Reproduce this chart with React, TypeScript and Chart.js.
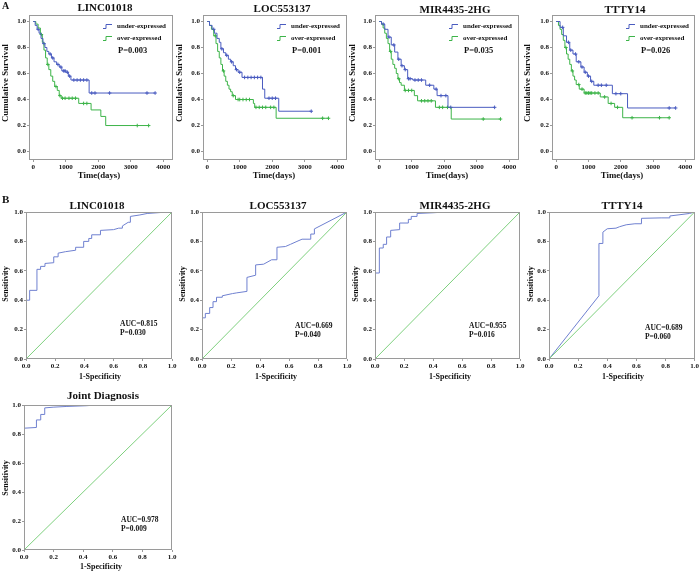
import { useEffect, useRef } from 'react';
import { Chart, registerables } from 'chart.js';
Chart.register(...registerables);

const FONT = '"Liberation Serif", "Times New Roman", serif';
const BLUE = '#4a5cc0';
const GREEN = '#3db449';
const ROC_BLUE = '#6f80d0';
const DIAG = '#7ed07e';
const BOX = '#9a9a9a';
const W = 700;
const H = 577;
const YW = 20;
const XH = 14;

// ---- tick labels ----
const kmTimeTicks = [0, 1000, 2000, 3000, 4000];
const kmSurvTicks = [0, 0.2, 0.4, 0.6, 0.8, 1.0];
const rocTicks = [0, 0.2, 0.4, 0.6, 0.8, 1.0];
const diagonal = [0, 1];

// ---- Kaplan-Meier data ----
const lincUnderT = [0, 60, 120, 180, 240, 300, 360, 420, 480, 560, 640, 720, 800, 880, 1000, 1080, 1160, 1720];
const lincUnderS = [1.0, 0.97, 0.94, 0.91, 0.87, 0.83, 0.8, 0.77, 0.75, 0.72, 0.69, 0.67, 0.65, 0.62, 0.61, 0.58, 0.55, 0.45];
const lincUnderC = [150, 330, 520, 600, 760, 850, 940, 980, 1050, 1120, 1250, 1350, 1450, 1550, 1650, 1800, 1900, 2350, 3500, 3750];
const lincOverT = [0, 80, 150, 220, 280, 330, 380, 430, 480, 540, 600, 660, 740, 800, 860, 1400, 1780, 2080, 2230];
const lincOverS = [1.0, 0.98, 0.95, 0.9, 0.84, 0.78, 0.72, 0.67, 0.63, 0.58, 0.54, 0.5, 0.47, 0.43, 0.41, 0.37, 0.32, 0.27, 0.2];
const lincOverC = [250, 450, 700, 820, 900, 980, 1100, 1200, 1300, 1550, 1650, 3200, 3550];

const locUnderT = [0, 70, 150, 220, 300, 370, 420, 500, 570, 650, 720, 800, 870, 950, 1070, 1700, 1770, 2200];
const locUnderS = [1.0, 0.97, 0.94, 0.91, 0.87, 0.84, 0.79, 0.76, 0.74, 0.71, 0.69, 0.66, 0.63, 0.61, 0.57, 0.48, 0.41, 0.31];
const locUnderC = [200, 450, 600, 750, 900, 1000, 1150, 1250, 1350, 1450, 1550, 1650, 1900, 2000, 2100, 3200];
const locOverT = [0, 70, 130, 200, 270, 320, 370, 420, 470, 520, 570, 620, 670, 720, 770, 870, 1420, 1460, 2120];
const locOverS = [1.0, 0.97, 0.94, 0.89, 0.83, 0.77, 0.72, 0.67, 0.62, 0.58, 0.54, 0.51, 0.48, 0.46, 0.43, 0.4, 0.37, 0.34, 0.256];
const locOverC = [250, 500, 800, 950, 1000, 1100, 1200, 1300, 1500, 1600, 1700, 1800, 1950, 2050, 3550, 3730];

const mirUnderT = [0, 70, 170, 270, 370, 475, 575, 675, 775, 875, 1030, 1430, 1680, 1780, 2115];
const mirUnderS = [1.0, 0.98, 0.94, 0.88, 0.82, 0.765, 0.71, 0.66, 0.63, 0.56, 0.55, 0.51, 0.48, 0.43, 0.34];
const mirUnderC = [120, 300, 450, 600, 700, 800, 900, 950, 1100, 1200, 1300, 1550, 1750, 1900, 2050, 2200, 3550];
const mirOverT = [0, 70, 120, 170, 220, 270, 320, 370, 420, 475, 525, 575, 625, 675, 775, 1080, 1180, 1730, 2215];
const mirOverS = [1.0, 0.98, 0.95, 0.91, 0.87, 0.83, 0.77, 0.71, 0.67, 0.64, 0.6, 0.56, 0.53, 0.51, 0.47, 0.43, 0.39, 0.34, 0.25];
const mirOverC = [350, 600, 800, 900, 1000, 1300, 1400, 1500, 1600, 1850, 1950, 2100, 3200, 3730];

const tttyUnderT = [0, 120, 220, 320, 420, 520, 620, 765, 865, 965, 1065, 1165, 1740, 2210];
const tttyUnderS = [1.0, 0.955, 0.89, 0.84, 0.78, 0.75, 0.69, 0.65, 0.61, 0.58, 0.54, 0.51, 0.445, 0.335];
const tttyUnderC = [200, 380, 450, 600, 700, 800, 900, 1000, 1100, 1300, 1400, 1550, 1850, 2000, 3500, 3700];
const tttyOverT = [0, 70, 120, 170, 220, 270, 320, 370, 420, 470, 520, 570, 620, 715, 865, 1365, 1610, 1810, 2060];
const tttyOverS = [1.0, 0.97, 0.94, 0.9, 0.855, 0.8, 0.75, 0.71, 0.67, 0.62, 0.58, 0.55, 0.515, 0.48, 0.45, 0.42, 0.37, 0.34, 0.26];
const tttyOverC = [300, 500, 700, 800, 900, 950, 1000, 1050, 1100, 1200, 1300, 1500, 1700, 1900, 2350, 3200, 3500];

// ---- ROC data ----
const rocLincFpr = [0, 0, 0.025, 0.025, 0.075, 0.075, 0.1, 0.1, 0.13, 0.13, 0.19, 0.19, 0.22, 0.22, 0.27, 0.34, 0.34, 0.395, 0.395, 0.43, 0.43, 0.45, 0.45, 0.51, 0.51, 0.6, 0.635, 0.66, 0.66, 0.7, 0.715, 0.715, 0.78, 0.83, 0.97, 1];
const rocLincTpr = [0, 0.4, 0.4, 0.467, 0.467, 0.61, 0.61, 0.63, 0.63, 0.65, 0.655, 0.695, 0.695, 0.72, 0.73, 0.74, 0.76, 0.76, 0.8, 0.8, 0.82, 0.82, 0.845, 0.845, 0.875, 0.88, 0.89, 0.89, 0.905, 0.93, 0.93, 0.97, 0.98, 0.99, 1.0, 1];
const rocLocFpr = [0, 0, 0.023, 0.023, 0.053, 0.053, 0.076, 0.076, 0.1, 0.1, 0.14, 0.14, 0.21, 0.24, 0.31, 0.31, 0.37, 0.37, 0.425, 0.48, 0.517, 0.517, 0.575, 0.61, 0.655, 0.69, 0.75, 0.75, 0.775, 0.775, 1];
const rocLocTpr = [0, 0.28, 0.28, 0.31, 0.31, 0.35, 0.35, 0.39, 0.39, 0.42, 0.42, 0.43, 0.445, 0.45, 0.46, 0.555, 0.57, 0.64, 0.645, 0.675, 0.675, 0.76, 0.765, 0.78, 0.8, 0.815, 0.815, 0.85, 0.85, 0.885, 1];
const rocMirFpr = [0, 0, 0.03, 0.03, 0.057, 0.057, 0.08, 0.08, 0.108, 0.108, 0.17, 0.17, 0.23, 0.23, 0.25, 0.25, 0.29, 0.29, 0.4, 0.49, 1];
const rocMirTpr = [0, 0.585, 0.585, 0.755, 0.755, 0.78, 0.78, 0.83, 0.83, 0.875, 0.88, 0.925, 0.925, 0.95, 0.95, 0.97, 0.97, 0.99, 0.995, 1, 1];
const rocTttyFpr = [0, 0.343, 0.343, 0.37, 0.37, 0.4, 0.46, 0.485, 0.53, 0.59, 0.635, 0.635, 0.77, 0.83, 0.83, 0.965, 1];
const rocTttyTpr = [0, 0.43, 0.786, 0.786, 0.863, 0.886, 0.89, 0.9, 0.913, 0.92, 0.92, 0.957, 0.96, 0.96, 0.973, 0.99, 1];
const rocJointFpr = [0, 0, 0.084, 0.084, 0.113, 0.113, 0.14, 0.14, 0.197, 0.29, 0.42, 0.49, 1];
const rocJointTpr = [0, 0.84, 0.845, 0.897, 0.897, 0.935, 0.935, 0.98, 0.985, 0.99, 0.995, 1, 1];

// ---- helpers ----
function survAt(T: number[], S: number[], t: number) {
  let v = S[0];
  for (let i = 0; i < T.length; i++) if (T[i] <= t) v = S[i];
  return v;
}
function stepPoints(T: number[], S: number[], C: number[]) {
  const pts = T.map((t, i) => ({ x: t, y: S[i] }));
  const end = Math.max(...C, T[T.length - 1]);
  pts.push({ x: end, y: S[S.length - 1] });
  return pts;
}
function censorPoints(T: number[], S: number[], C: number[]) {
  return C.map((t) => ({ x: t, y: survAt(T, S, t) }));
}

type TextItem = { text: string; x: number; y: number; size: number; align?: CanvasTextAlign; rotate?: boolean };
type LegendItem = { x: number; y: number; color: string; text: string };

function makeDecor(texts: TextItem[], legend: LegendItem[]) {
  return {
    id: 'decor',
    afterDraw(chart: any) {
      const ctx = chart.ctx as CanvasRenderingContext2D;
      const a = chart.chartArea;
      ctx.save();
      ctx.strokeStyle = BOX;
      ctx.lineWidth = 1;
      ctx.strokeRect(Math.round(a.left) + 0.5, Math.round(a.top) + 0.5, Math.round(a.right - a.left) - 1, Math.round(a.bottom - a.top) - 1);
      ctx.fillStyle = '#111';
      ctx.textBaseline = 'middle';
      for (const t of texts) {
        ctx.font = `bold ${t.size}px ${FONT}`;
        ctx.textAlign = t.align || 'center';
        if (t.rotate) {
          ctx.save();
          ctx.translate(t.x, t.y);
          ctx.rotate(-Math.PI / 2);
          ctx.fillText(t.text, 0, 0);
          ctx.restore();
        } else {
          ctx.fillText(t.text, t.x, t.y);
        }
      }
      for (const l of legend) {
        ctx.strokeStyle = l.color;
        ctx.lineWidth = 1;
        ctx.beginPath();
        ctx.moveTo(l.x, l.y + 2.5);
        ctx.lineTo(l.x + 3, l.y + 2.5);
        ctx.lineTo(l.x + 3, l.y - 1.5);
        ctx.lineTo(l.x + 9, l.y - 1.5);
        ctx.stroke();
        ctx.font = `bold 7px ${FONT}`;
        ctx.textAlign = 'left';
        ctx.fillStyle = '#111';
        ctx.fillText(l.text, l.x + 14, l.y);
      }
      ctx.restore();
    },
  };
}

type Box = { l: number; t: number; r: number; b: number };

function axisCommon(ticksArr: number[], fmt: (v: number) => string, isX: boolean) {
  return {
    type: 'linear',
    afterBuildTicks: (s: any) => {
      s.ticks = ticksArr.map((v) => ({ value: v }));
    },
    afterFit: (s: any) => {
      if (isX) s.height = XH;
      else s.width = YW;
    },
    grid: { drawOnChartArea: false, drawTicks: true, tickLength: 2, color: BOX },
    border: { display: false },
    ticks: {
      autoSkip: false,
      maxRotation: 0,
      padding: 1,
      color: '#111',
      font: { family: FONT, size: 7, weight: 'bold' },
      callback: (v: any) => fmt(Number(v)),
    },
  };
}

function padding(box: Box) {
  return { left: box.l - YW, top: box.t, right: W - box.r, bottom: H - box.b - XH };
}

type KmPanel = {
  title: string; tx: number; ty: number; box: Box; ylabX: number; xlabX: number; pText: string;
  uT: number[]; uS: number[]; uC: number[]; oT: number[]; oS: number[]; oC: number[]; extra?: TextItem[];
};

const kmPanels: KmPanel[] = [
  { title: 'LINC01018', tx: 105, ty: 8, box: { l: 29, t: 15, r: 173, b: 160 }, ylabX: 6, xlabX: 99, pText: 'P=0.003',
    uT: lincUnderT, uS: lincUnderS, uC: lincUnderC, oT: lincOverT, oS: lincOverS, oC: lincOverC,
    extra: [{ text: 'A', x: 2, y: 6, size: 10, align: 'left' }] },
  { title: 'LOC553137', tx: 282, ty: 9, box: { l: 203, t: 15, r: 347, b: 160 }, ylabX: 180, xlabX: 274, pText: 'P=0.001',
    uT: locUnderT, uS: locUnderS, uC: locUnderC, oT: locOverT, oS: locOverS, oC: locOverC },
  { title: 'MIR4435-2HG', tx: 455, ty: 10, box: { l: 375, t: 15, r: 519, b: 160 }, ylabX: 353, xlabX: 447, pText: 'P=0.035',
    uT: mirUnderT, uS: mirUnderS, uC: mirUnderC, oT: mirOverT, oS: mirOverS, oC: mirOverC },
  { title: 'TTTY14', tx: 625, ty: 10, box: { l: 552, t: 15, r: 695, b: 160 }, ylabX: 528, xlabX: 622, pText: 'P=0.026',
    uT: tttyUnderT, uS: tttyUnderS, uC: tttyUnderC, oT: tttyOverT, oS: tttyOverS, oC: tttyOverC },
];

type RocPanel = {
  title: string; tx: number; ty: number; box: Box; ylabX: number; ylabY: number; xlabX: number; xlabY: number;
  auc: string; p: string; ax: number; ay: number; fpr: number[]; tpr: number[]; extra?: TextItem[];
};

const rocPanels: RocPanel[] = [
  { title: 'LINC01018', tx: 97, ty: 206, box: { l: 26, t: 212, r: 172, b: 359 }, ylabX: 6, ylabY: 284, xlabX: 100, xlabY: 377,
    auc: 'AUC=0.815', p: 'P=0.030', ax: 120, ay: 324, fpr: rocLincFpr, tpr: rocLincTpr,
    extra: [{ text: 'B', x: 2, y: 200, size: 11, align: 'left' }] },
  { title: 'LOC553137', tx: 278, ty: 206, box: { l: 202, t: 212, r: 347, b: 359 }, ylabX: 183, ylabY: 284, xlabX: 276, xlabY: 377,
    auc: 'AUC=0.669', p: 'P=0.040', ax: 295, ay: 326, fpr: rocLocFpr, tpr: rocLocTpr },
  { title: 'MIR4435-2HG', tx: 455, ty: 206, box: { l: 375, t: 212, r: 520, b: 359 }, ylabX: 356, ylabY: 284, xlabX: 450, xlabY: 377,
    auc: 'AUC=0.955', p: 'P=0.016', ax: 469, ay: 326, fpr: rocMirFpr, tpr: rocMirTpr },
  { title: 'TTTY14', tx: 622, ty: 206, box: { l: 549, t: 212, r: 695, b: 359 }, ylabX: 531, ylabY: 284, xlabX: 623, xlabY: 377,
    auc: 'AUC=0.689', p: 'P=0.060', ax: 645, ay: 328, fpr: rocTttyFpr, tpr: rocTttyTpr },
  { title: 'Joint Diagnosis', tx: 103, ty: 396, box: { l: 24, t: 405, r: 172, b: 550 }, ylabX: 6, ylabY: 478, xlabX: 101, xlabY: 567,
    auc: 'AUC=0.978', p: 'P=0.009', ax: 121, ay: 520, fpr: rocJointFpr, tpr: rocJointTpr },
];

function kmConfig(p: KmPanel): any {
  const texts: TextItem[] = [
    { text: p.title, x: p.tx, y: p.ty, size: 11 },
    { text: 'Cumulative Survival', x: p.ylabX, y: 83, size: 8.8, rotate: true },
    { text: 'Time(days)', x: p.xlabX, y: 176, size: 8.8 },
    { text: p.pText, x: p.box.l + 89, y: p.box.t + 36, size: 8.5, align: 'left' },
    ...(p.extra || []),
  ];
  const legend: LegendItem[] = [
    { x: p.box.l + 74, y: p.box.t + 11, color: BLUE, text: 'under-expressed' },
    { x: p.box.l + 74, y: p.box.t + 23, color: GREEN, text: 'over-expressed' },
  ];
  return {
    type: 'line',
    data: {
      datasets: [
        { data: stepPoints(p.uT, p.uS, p.uC), borderColor: BLUE, borderWidth: 1, stepped: true, pointRadius: 0, fill: false },
        { data: stepPoints(p.oT, p.oS, p.oC), borderColor: GREEN, borderWidth: 1, stepped: true, pointRadius: 0, fill: false },
        { data: censorPoints(p.uT, p.uS, p.uC), borderColor: BLUE, borderWidth: 1, showLine: false, pointStyle: 'cross', pointRadius: 1.8 },
        { data: censorPoints(p.oT, p.oS, p.oC), borderColor: GREEN, borderWidth: 1, showLine: false, pointStyle: 'cross', pointRadius: 1.8 },
      ],
    },
    options: {
      animation: false,
      responsive: false,
      events: [],
      layout: { padding: padding(p.box) },
      scales: {
        x: { ...axisCommon(kmTimeTicks, (v) => String(v), true), min: -130, max: 4300 },
        y: { ...axisCommon(kmSurvTicks, (v) => v.toFixed(1), false), min: -0.065, max: 1.05 },
      },
      plugins: { legend: { display: false }, tooltip: { enabled: false }, title: { display: false } },
    },
    plugins: [makeDecor(texts, legend)],
  };
}

function rocConfig(p: RocPanel): any {
  const texts: TextItem[] = [
    { text: p.title, x: p.tx, y: p.ty, size: 11 },
    { text: 'Sensitivity', x: p.ylabX, y: p.ylabY, size: 8, rotate: true },
    { text: '1-Specificity', x: p.xlabX, y: p.xlabY, size: 8 },
    { text: p.auc, x: p.ax, y: p.ay, size: 7.5, align: 'left' },
    { text: p.p, x: p.ax, y: p.ay + 9, size: 7.5, align: 'left' },
    ...(p.extra || []),
  ];
  return {
    type: 'line',
    data: {
      datasets: [
        { data: diagonal.map((v) => ({ x: v, y: v })), borderColor: DIAG, borderWidth: 1, pointRadius: 0, fill: false },
        { data: p.fpr.map((f, i) => ({ x: f, y: p.tpr[i] })), borderColor: ROC_BLUE, borderWidth: 1, pointRadius: 0, fill: false, tension: 0 },
      ],
    },
    options: {
      animation: false,
      responsive: false,
      events: [],
      layout: { padding: padding(p.box) },
      scales: {
        x: { ...axisCommon(rocTicks, (v) => v.toFixed(1), true), min: 0, max: 1 },
        y: { ...axisCommon(rocTicks, (v) => v.toFixed(1), false), min: 0, max: 1 },
      },
      plugins: { legend: { display: false }, tooltip: { enabled: false }, title: { display: false } },
    },
    plugins: [makeDecor(texts, [])],
  };
}

function Panel({ config }: { config: any }) {
  const ref = useRef<HTMLCanvasElement>(null);
  useEffect(() => {
    if (!ref.current) return;
    const chart = new Chart(ref.current, config);
    return () => chart.destroy();
  }, [config]);
  return (
    <canvas
      ref={ref}
      width={W}
      height={H}
      style={{ position: 'absolute', left: 0, top: 0, width: W, height: H, pointerEvents: 'none' }}
    />
  );
}

const configs = [...kmPanels.map(kmConfig), ...rocPanels.map(rocConfig)];

export default function App() {
  return (
    <div style={{ position: 'absolute', left: 0, top: 0, width: W, height: H, background: '#fff', overflow: 'hidden' }}>
      {configs.map((c, i) => (
        <Panel key={i} config={c} />
      ))}
    </div>
  );
}
